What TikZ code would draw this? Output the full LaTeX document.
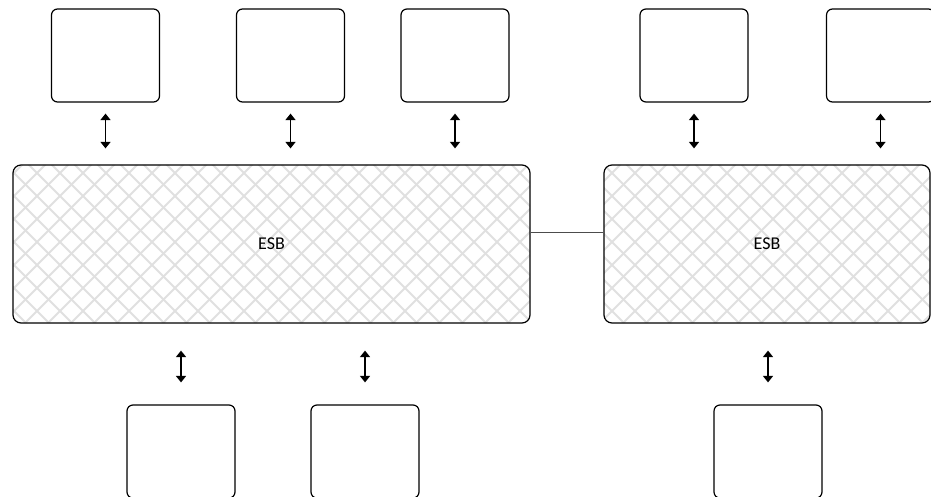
\documentclass[tikz,border=0pt]{standalone}
\usepackage{fontspec}
\setmainfont{Carlito}
\usetikzlibrary{arrows.meta,calc}
\tikzset{
  endpoint/.style={draw=black, line width=1.2pt, rounded corners=6pt,
    minimum width=108pt, minimum height=93pt, inner sep=0pt},
  busbox/.style={draw=black, line width=1.2pt, rounded corners=8pt,
    minimum height=158pt, inner sep=0pt, font=\fontsize{18}{21}\selectfont},
  link/.style={{Triangle[width=10pt,length=6.5pt]}-{Triangle[width=10pt,length=6.5pt]},
    line width=1.4pt},
  hatch/.style={draw=black!12, line width=2pt},
  bridge/.style={draw=black!70, line width=1pt}
}
\begin{document}
\begin{tikzpicture}[x=1pt,y=-1pt]
\useasboundingbox (0,0) rectangle (931,497);

% cross-hatched background of the two buses
\begin{scope}
  \clip[rounded corners=8pt] (13,165) rectangle (530,323)
                             (604,165) rectangle (930,323);
  \foreach \c in {-400,-377,...,1400}{
    \draw[hatch] (\c,150) -- ++(200,200);
    \draw[hatch] (\c,150) -- ++(-200,200);
  }
\end{scope}

% buses
\node[busbox, minimum width=517pt] (esbL) at (271.5,244) {ESB};
\node[busbox, minimum width=326pt] (esbR) at (767,244) {ESB};

% upper endpoints
\node[endpoint] (t1) at (105.5,55.5) {};
\node[endpoint] (t2) at (290.5,55.5) {};
\node[endpoint] (t3) at (455,55.5) {};
\node[endpoint] (t4) at (694,55.5) {};
\node[endpoint] (t5) at (880.5,55.5) {};

% lower endpoints
\node[endpoint] (b1) at (181,451.5) {};
\node[endpoint] (b2) at (365,451.5) {};
\node[endpoint] (b3) at (768,451.5) {};

% links between endpoints and buses
\foreach \t/\e in {t1/esbL, t2/esbL, t3/esbL, t4/esbR, t5/esbR}{
  \draw[link, shorten <=11pt, shorten >=16pt] (\t.south) -- (\t.south |- \e.north);
}
\foreach \b/\e in {b1/esbL, b2/esbL, b3/esbR}{
  \draw[link, shorten <=27pt, shorten >=22pt] (\b.south |- \e.south) -- (\b.north);
}

% bus-to-bus bridge
\draw[bridge] ($(esbL.east)+(0,-12)$) -- ($(esbR.west)+(0,-12)$);
\end{tikzpicture}
\end{document}
